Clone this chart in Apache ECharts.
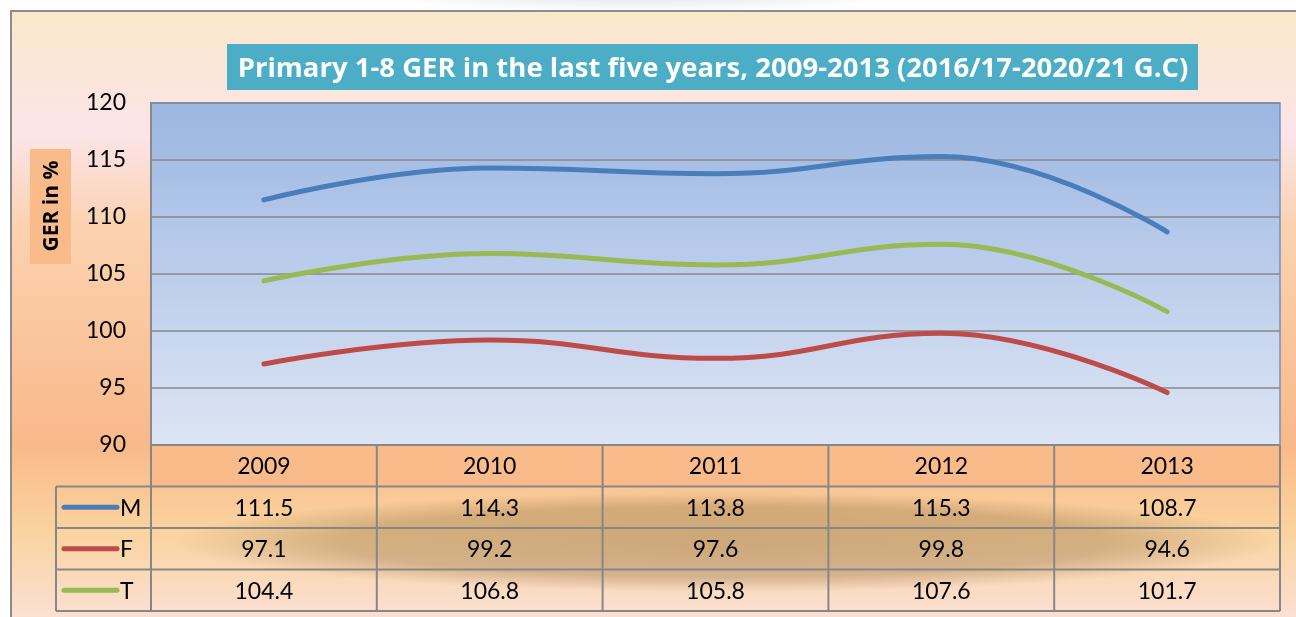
<!DOCTYPE html>
<html>
<head>
<meta charset="utf-8">
<script src="https://cdn.jsdelivr.net/npm/echarts@6/dist/echarts.min.js"></script>
<style>
  html, body { margin: 0; padding: 0; background: #fff; }
  #chart { width: 1296px; height: 617px; }
</style>
</head>
<body>
<div id="chart"></div>
<script>
// data
const years = ["2009", "2010", "2011", "2012", "2013"];
const seriesNames = ["M", "F", "T"];
const maleGER = [111.5, 114.3, 113.8, 115.3, 108.7];
const femaleGER = [97.1, 99.2, 97.6, 99.8, 94.6];
const totalGER = [104.4, 106.8, 105.8, 107.6, 101.7];
const yTicks = [90, 95, 100, 105, 110, 115, 120];

const colors = ["#4a7ebb", "#be4b48", "#98b954"];
const values = [maleGER, femaleGER, totalGER];

// layout
const W = 1296, H = 617;
const plotL = 151, plotR = 1280, plotT = 103, plotB = 445;
const rowH = 41.5;
const legendL = 56;
const font = "Lato, sans-serif";
const boldFont = "'Open Sans', sans-serif";

const chartDom = document.getElementById("chart");
const myChart = echarts.init(chartDom);

function buildTable() {
	const els = [];
	const cellW = (plotR - plotL) / years.length;
	const lineStyle = {stroke: "#878787", lineWidth: 2};
	// header row background
	els.push({
		type: "rect", z: 1,
		shape: {x: plotL, y: plotB, width: plotR - plotL, height: rowH},
		style: {fill: "#f9bb8a"}
	});
	// blurred smudge behind body rows
	els.push({
		type: "circle", z: 1,
		x: 725, y: 542, scaleX: 5.5, scaleY: 0.5,
		shape: {cx: 0, cy: 0, r: 100},
		style: {
			fill: new echarts.graphic.RadialGradient(0.5, 0.5, 0.5, [
				{offset: 0, color: "rgba(135,100,55,0.4)"},
				{offset: 0.7, color: "rgba(135,100,55,0.33)"},
				{offset: 1, color: "rgba(135,100,55,0)"}
			])
		}
	});
	years.forEach((yr, i) => {
		els.push({
			type: "text", z: 5,
			x: plotL + cellW * (i + 0.5), y: plotB + rowH / 2 + 1,
			style: {text: yr, font: "23px " + font, fill: "#000", align: "center", verticalAlign: "middle"}
		});
	});
	values.forEach((arr, r) => {
		const cy = plotB + rowH * (r + 1.5);
		arr.forEach((v, i) => {
			els.push({
				type: "text", z: 5,
				x: plotL + cellW * (i + 0.5), y: cy + 1,
				style: {text: v.toFixed(1), font: "23px " + font, fill: "#000", align: "center", verticalAlign: "middle"}
			});
		});
		els.push({
			type: "line", z: 5,
			shape: {x1: 64, y1: cy, x2: 117, y2: cy},
			style: {stroke: colors[r], lineWidth: 5, lineCap: "round"}
		});
		els.push({
			type: "text", z: 5,
			x: 120, y: cy + 1,
			style: {text: seriesNames[r], font: "23px " + font, fill: "#000", align: "left", verticalAlign: "middle"}
		});
	});
	// horizontal lines
	for (let r = 0; r <= 4; r++) {
		const y = plotB + rowH * r;
		const x1 = r === 0 ? plotL : legendL;
		els.push({type: "line", z: 4, shape: {x1: x1, y1: y, x2: plotR, y2: y}, style: lineStyle});
	}
	// vertical lines
	els.push({type: "line", z: 4, shape: {x1: legendL, y1: plotB + rowH, x2: legendL, y2: plotB + rowH * 4}, style: lineStyle});
	for (let i = 0; i <= years.length; i++) {
		const x = plotL + cellW * i;
		els.push({type: "line", z: 4, shape: {x1: x, y1: plotB, x2: x, y2: plotB + rowH * 4}, style: lineStyle});
	}
	return els;
}

let option;

option = {
	animation: false,
	backgroundColor: "#ffffff",
	graphic: [
		{
			type: "rect", z: -10, silent: true,
			shape: {x: 11, y: 11, width: W, height: H},
			style: {
				stroke: "#8c8c8c", lineWidth: 2,
				fill: new echarts.graphic.LinearGradient(0, 0, 0, 1, [
					{offset: 0, color: "#fae8cb"},
					{offset: 0.2, color: "#fce4e8"},
					{offset: 0.35, color: "#fbd2b0"},
					{offset: 0.7, color: "#f9b98a"},
					{offset: 0.84, color: "#fad39e"},
					{offset: 1, color: "#fbe1da"}
				])
			}
		},
		{
			// faint swoosh in the top margin
			type: "circle", z: -11,
			x: 640, y: -28, scaleX: 3.5, scaleY: 0.42,
			shape: {cx: 0, cy: 0, r: 100},
			style: {
				fill: new echarts.graphic.RadialGradient(0.5, 0.5, 0.5, [
					{offset: 0, color: "rgba(185,200,218,0.9)"},
					{offset: 1, color: "rgba(185,200,218,0)"}
				])
			}
		},
		{
			type: "rect", z: 10,
			shape: {x: 227, y: 44, width: 971, height: 46},
			style: {fill: "#4badc6"}
		},
		{
			type: "text", z: 11,
			x: 713, y: 69,
			style: {
				text: "Primary 1-8 GER in the last five years, 2009-2013 (2016/17-2020/21 G.C)",
				font: "bold 27.5px " + boldFont, fill: "#ffffff", align: "center", verticalAlign: "middle"
			}
		},
		{
			type: "rect", z: 10,
			shape: {x: 30, y: 149, width: 41, height: 115},
			style: {fill: "#f9bb8a"}
		},
		{
			type: "text", z: 11,
			x: 52, y: 206, rotation: Math.PI / 2,
			style: {text: "GER in %", font: "bold 21px " + boldFont, fill: "#000", align: "center", verticalAlign: "middle"}
		}
	].concat(buildTable()),
	grid: {
		left: plotL, right: W - plotR, top: plotT, bottom: H - plotB,
		show: true,
		borderColor: "#7391c4",
		borderWidth: 1.5,
		backgroundColor: new echarts.graphic.LinearGradient(0, 0, 0, 1, [
			{offset: 0, color: "#9bb6e2"},
			{offset: 1, color: "#dde5f4"}
		])
	},
	xAxis: {
		type: "category",
		data: years,
		boundaryGap: true,
		axisLine: {show: false},
		axisTick: {show: false},
		axisLabel: {show: false}
	},
	yAxis: {
		type: "value",
		min: yTicks[0],
		max: yTicks[yTicks.length - 1],
		interval: 5,
		axisLine: {show: true, lineStyle: {color: "#8a8a8a", width: 2}},
		axisTick: {show: false},
		axisLabel: {
			fontSize: 23,
			fontFamily: font,
			color: "#000",
			margin: 25
		},
		splitLine: {lineStyle: {color: "#888888", width: 1.5}}
	},
	series: values.map((arr, i) => ({
		name: seriesNames[i],
		type: "line",
		data: arr,
		smooth: 0.45,
		symbol: "none",
		lineStyle: {color: colors[i], width: 5, cap: "round"},
		z: 3
	}))
};

option && myChart.setOption(option);
</script>
</body>
</html>
